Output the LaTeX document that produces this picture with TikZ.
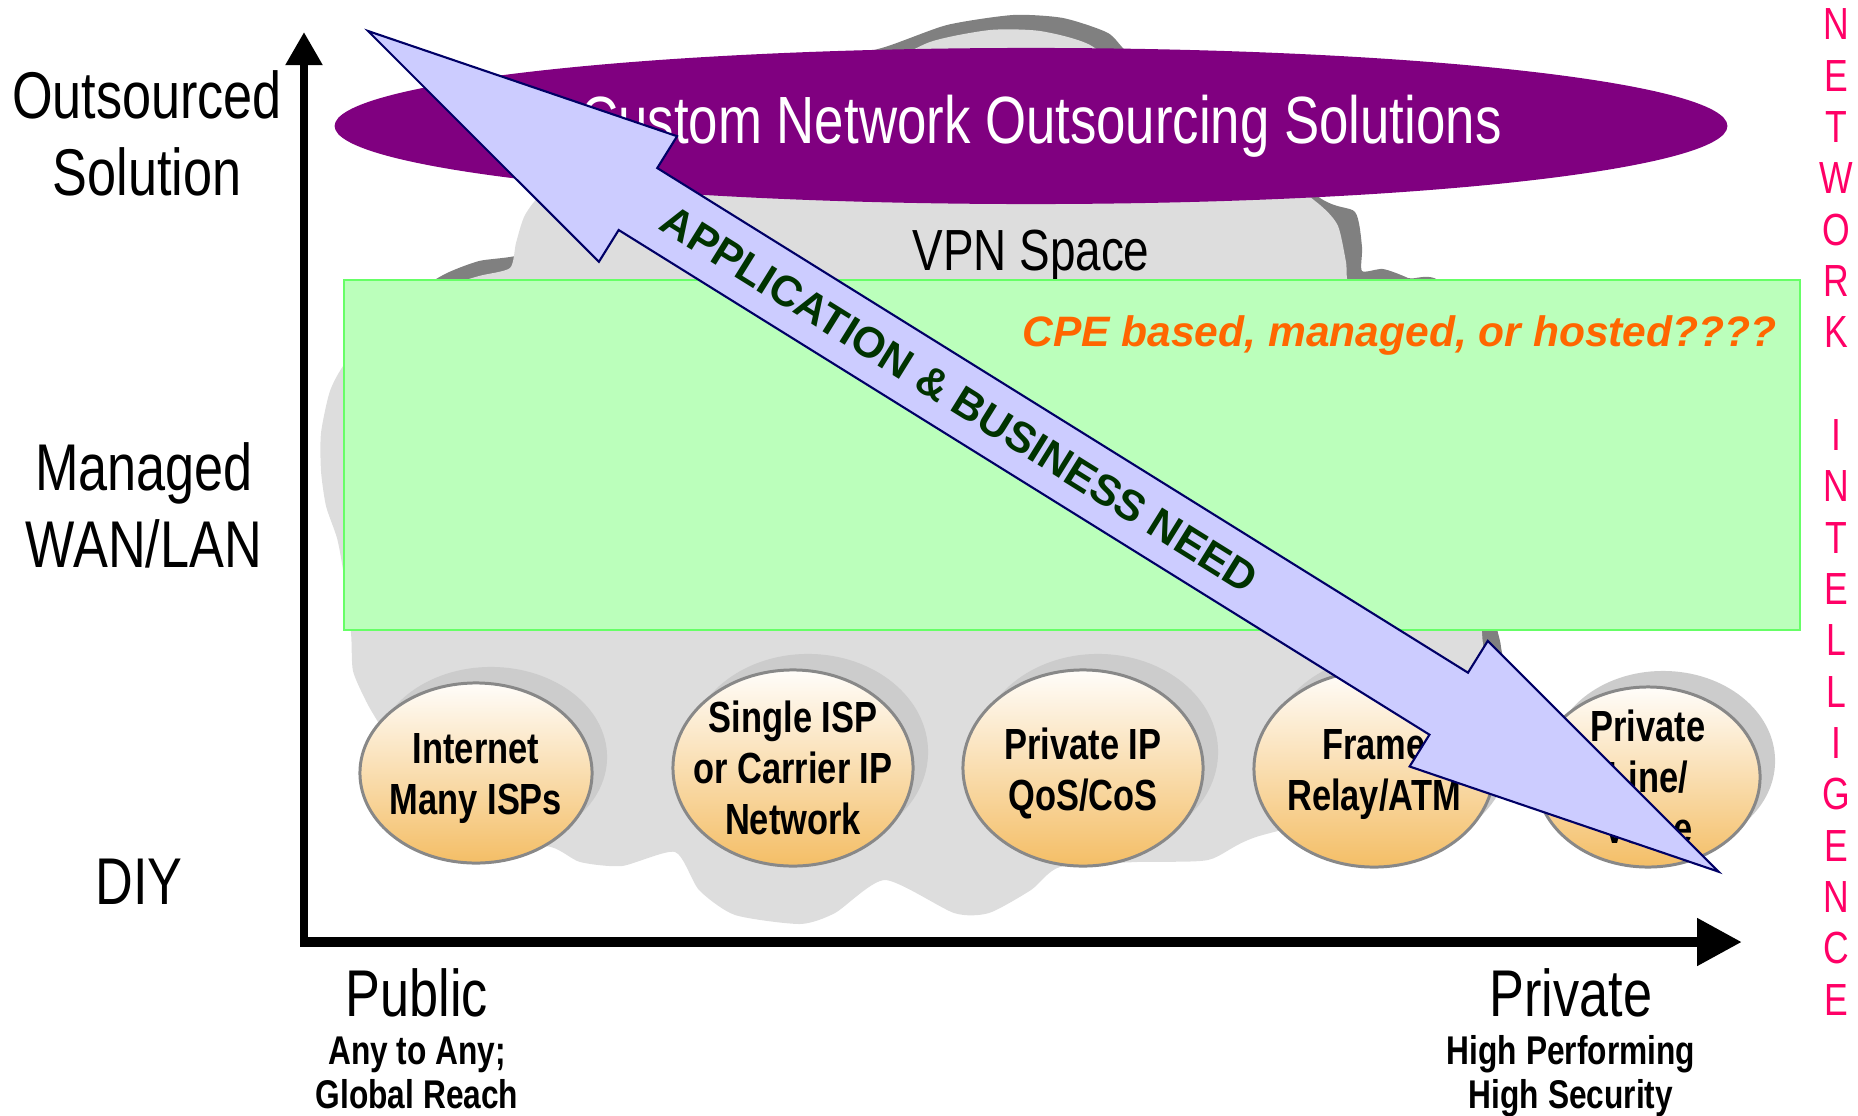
\documentclass[tikz,border=0pt]{standalone}
\usepackage{fontspec}
\setmainfont{Liberation Sans}[FakeStretch=0.79]
\newfontfamily\plainsans{Liberation Sans}
\usetikzlibrary{shapes.geometric,arrows.meta,shadows}

\definecolor{cloudfill}{HTML}{DDDDDD}
\definecolor{cloudshade}{HTML}{808080}
\definecolor{bubshade}{HTML}{CCCCCC}
\definecolor{bubedge}{HTML}{888888}
\definecolor{bubtop}{HTML}{FFFDFA}
\definecolor{bubbot}{HTML}{F4BE66}
\definecolor{solpurple}{HTML}{800080}
\definecolor{mgdfill}{HTML}{BBFFBB}
\definecolor{mgdedge}{HTML}{66FF66}
\definecolor{needfill}{HTML}{CCCCFF}
\definecolor{neededge}{HTML}{000066}
\definecolor{needtext}{HTML}{003300}
\definecolor{cpeorange}{HTML}{FF6600}
\definecolor{intelpink}{HTML}{FF0066}

\begin{document}
\begin{tikzpicture}[x=0.01cm, y=-0.01cm,
	biglabel/.style={font=\fontsize{18.8}{21.9}\selectfont, align=center},
	smalllabel/.style={font=\fontsize{11.4}{12.5}\selectfont\bfseries, align=center},
	bubble/.style={ellipse, draw=bubedge, line width=0.85pt, inner sep=0pt,
		top color=bubtop, bottom color=bubbot,
		general shadow={fill=bubshade, shadow xshift=0.15cm, shadow yshift=0.16cm}},
	bubtext/.style={align=center, font=\fontsize{12.4}{14.5}\selectfont\bfseries}]
	\useasboundingbox (0,0) rectangle (1858,1115);
	% VPN cloud with its shadow
	\fill [cloudshade] plot[smooth cycle, tension=0.4] coordinates {(425,290) (445,274) (479,261) (522,254)
		(550,225) (580,185) (660,122) (800,70) (885,47) (947,25) (1013,15) (1063,18) (1108,33) (1130,55)
		(1200,110) (1320,198) (1355,212) (1362,247) (1362,271) (1383,269) (1408,278) (1450,300)
		(1492,600) (1501,647) (1503,700) (1400,720) (700,500) (450,320)};
	\fill [cloudfill] plot[smooth cycle, tension=0.4] coordinates {(516,243) (525,215) (546,190) (620,140)
		(760,95) (860,75) (930,42) (990,30) (1040,31) (1090,45) (1150,90) (1260,160) (1320,205) (1338,226)
		(1346,262) (1350,285) (1390,290) (1470,420) (1482,633) (1486,700) (1420,790) (1256,837) (1208,860)
		(1137,862) (1060,867) (1031,890) (989,913) (954,913) (885,880) (835,913) (800,924) (735,915)
		(699,890) (675,852) (622,866) (580,862) (551,847) (480,835) (400,760) (381,727) (367,703)
		(353,671) (351,633) (343,570) (337,538) (326,506) (321,471) (321,433) (330,391) (346,362)
		(395,305) (440,288) (479,276) (510,268)};
	% Outsourcing layer
	\node [ellipse, fill=solpurple, minimum width=13.92cm, minimum height=1.56cm] (custom) at (1031,126) {};
	\node [text=white, font=\fontsize{19}{22}\selectfont, anchor=base] (customtext) at (1041,143)
		{Custom Network Outsourcing Solutions};
	\node [font=\fontsize{16.5}{19}\selectfont, anchor=base] (vpn) at (1031,270) {VPN Space};
	% Managed layer
	\draw [mgdedge, fill=mgdfill, line width=0.7pt] (344,280) rectangle (1800,630);
	\node [font=\plainsans\fontsize{12.1}{14}\selectfont\bfseries\itshape, text=cpeorange, anchor=base east]
		(cpe) at (1789,346) {CPE based, managed, or hosted????};
	% Services
	\node [bubble, minimum width=2.32cm, minimum height=1.80cm] (inet) at (476,773) {};
	\node [bubble, minimum width=2.40cm, minimum height=1.96cm] (isp) at (793,768) {};
	\node [bubble, minimum width=2.40cm, minimum height=1.96cm] (pip) at (1083,768) {};
	\node [bubble, minimum width=2.40cm, minimum height=1.96cm] (frame) at (1374,769) {};
	\node [bubble, minimum width=2.24cm, minimum height=1.80cm] (pline) at (1648,777) {};
	\node [bubtext] (inettext) at ([yshift=-0.06cm]inet) {Internet\\Many ISPs};
	\node [bubtext] (isptext) at (isp) {Single ISP\\or Carrier IP\\Network};
	\node [bubtext] (piptext) at ([yshift=-0.05cm]pip) {Private IP\\QoS/CoS};
	\node [bubtext] (frametext) at ([yshift=-0.06cm]frame) {Frame\\Relay/ATM};
	\node [bubtext] (plinetext) at (pline) {Private\\Line/\\Voice};
	% Axes
	\coordinate (origin) at (304,946);
	\coordinate (corner) at (300,942);
	\coordinate (ytop) at (304,32);
	\coordinate (xend) at (1742,942);
	\draw [line width=2.3pt, -{Triangle[length=0.33cm,width=0.35cm]}] (origin) -- (ytop);
	\draw [line width=3.1pt, -{Triangle[length=0.45cm,width=0.45cm]}] (corner) -- (xend);
	% Labels
	\node [biglabel] (outs) at (147,133) {Outsourced\\Solution};
	\node [biglabel] (mgd) at (144,505) {Managed\\WAN/LAN};
	\node [biglabel, anchor=base] (diy) at (139,904) {DIY};
	\node [biglabel, anchor=base] (public) at (417,1016) {Public};
	\node [smalllabel] (reach) at (417,1073) {Any to Any;\\Global Reach};
	\node [biglabel, anchor=base] (private) at (1571,1016) {Private};
	\node [smalllabel] (secure) at (1571,1076) {High Performing\\High Security};
	\node [font=\fontsize{12.8}{14.6}\selectfont, text=intelpink, align=center] (intel) at (1836,512)
		{N\\E\\T\\W\\O\\R\\K\\[14.6pt]I\\N\\T\\E\\L\\L\\I\\G\\E\\N\\C\\E};
	% Need arrow
	\begin{scope}[shift={(368,31)}, rotate=-31.9]
		\draw [neededge, fill=needfill, line width=0.6pt] (0,0) -- (318,-74) -- (318,-36.5) -- (1273,-36.5)
			-- (1273,-74) -- (1591,0) -- (1273,74) -- (1273,36.5) -- (318,36.5) -- (318,74) -- cycle;
		\node [transform shape, font=\plainsans\fontsize{12.2}{14}\selectfont\bfseries, text=needtext]
			(need) at (697,0) {APPLICATION \& BUSINESS NEED};
	\end{scope}
\end{tikzpicture}
\end{document}
